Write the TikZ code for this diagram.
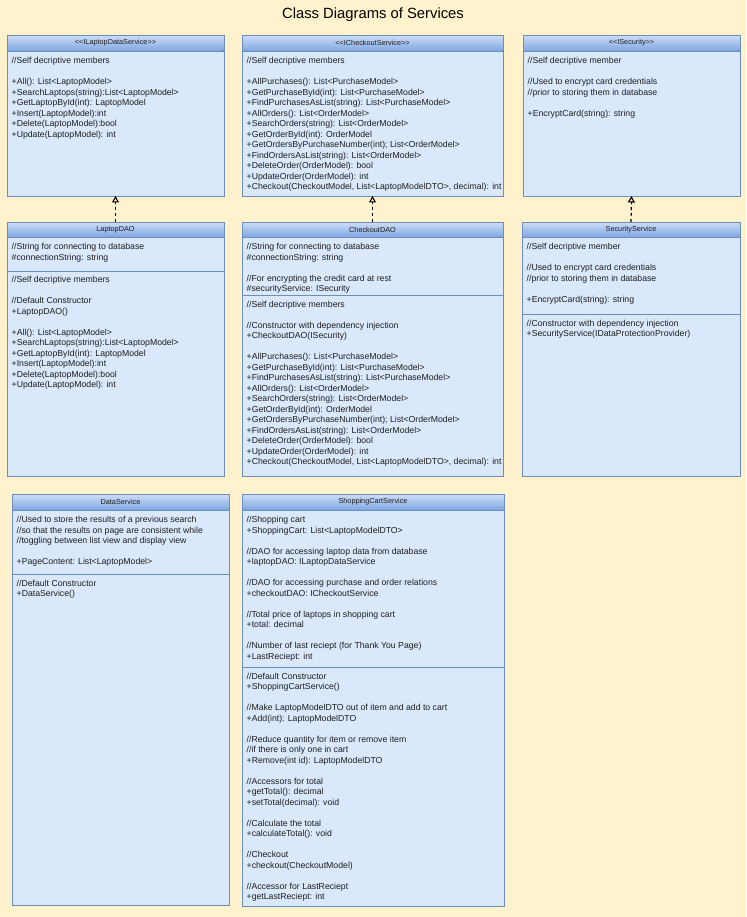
\documentclass[tikz,border=0pt]{standalone}
\usepackage{fontspec}
\setmainfont{Liberation Sans}[Ligatures=TeXOff]
\usetikzlibrary{arrows.meta,calc}
\definecolor{bgc}{HTML}{FFF2CC}
\definecolor{bodyc}{HTML}{DAE8FC}
\definecolor{bordc}{HTML}{6C8EBF}
\definecolor{headtop}{HTML}{CCDDF8}
\definecolor{headmid}{HTML}{A6C2EE}
\definecolor{headbot}{HTML}{7EA6E0}
\definecolor{txtc}{HTML}{1E1E1E}
\newcommand\bodyfont{\fontsize{8.7}{10.5}\selectfont}
\newcommand\headfont{\fontsize{7.3}{9}\selectfont}
\newcommand\bl{\\[10.5pt]}
\tikzset{
  cls/.style={draw=bordc, fill=bodyc, line width=0.8pt, inner sep=0pt, outer sep=0pt, anchor=north west},
  txt/.style={anchor=north west, inner sep=0pt, align=left, font=\bodyfont, text=txtc},
  hdtxt/.style={font=\headfont, text=txtc, inner sep=0pt},
  sepline/.style={draw=bordc, line width=0.8pt},
  realize/.style={draw=black, dash pattern=on 3pt off 3pt, line width=1.2pt, -{Triangle[open,width=7pt,length=6.5pt,line width=1.1pt]}}
}
\newcommand\umlclass[7]{%
  \node[cls, minimum width=#4pt, minimum height=#5pt] (#1) at (#2,#3) {};
  \fill[top color=headtop, middle color=headmid, bottom color=headbot] ($(#1.north west)+(0.4,0.4)$) rectangle ($(#1.north east)+(-0.4,#6)$);
  \draw[sepline] (#1.north west) rectangle (#1.south east);
  \draw[sepline] ($(#1.north west)+(0,#6)$) -- ($(#1.north east)+(0,#6)$);
  \node[hdtxt] (#1-title) at ($(#1.north)+(0,#6/2)$) {#7};
}
\newcommand\umlsep[2]{%
  \draw[sepline] ($(#1.north west)+(0,#2)$) -- ($(#1.north east)+(0,#2)$);
}
\begin{document}
\begin{tikzpicture}[x=1pt,y=-1pt]
\useasboundingbox (0,0) rectangle (746,917);
\fill[bgc] (0,0) rectangle (746,917);
\node[font=\fontsize{14.8}{17}\selectfont, text=black] (title) at (373,15) {Class Diagrams of Services};

% Row 1: interfaces
\umlclass{ild}{7}{35}{217}{161}{16}{<<ILaptopDataService>>}
\node[txt] (ild-t1) at ($(ild.north west)+(4.5,21.2)$) {\strut//Self decriptive members\bl
+All(): List<LaptopModel>\\
+SearchLaptops(string):List<LaptopModel>\\
+GetLaptopById(int): LaptopModel\\
+Insert(LaptopModel):int\\
+Delete(LaptopModel):bool\\
+Update(LaptopModel): int};

\umlclass{ics}{242}{35}{261}{161}{16}{<<ICheckoutService>>}
\node[txt] (ics-t1) at ($(ics.north west)+(4.5,21.2)$) {\strut//Self decriptive members\bl
+AllPurchases(): List<PurchaseModel>\\
+GetPurchaseById(int): List<PurchaseModel>\\
+FindPurchasesAsList(string): List<PurchaseModel>\\
+AllOrders(): List<OrderModel>\\
+SearchOrders(string): List<OrderModel>\\
+GetOrderById(int): OrderModel\\
+GetOrdersByPurchaseNumber(int); List<OrderModel>\\
+FindOrdersAsList(string): List<OrderModel>\\
+DeleteOrder(OrderModel): bool\\
+UpdateOrder(OrderModel): int\\
+Checkout(CheckoutModel, List<LaptopModelDTO>, decimal): int};

\umlclass{isec}{523}{35}{217}{161}{16}{<<ISecurity>>}
\node[txt] (isec-t1) at ($(isec.north west)+(4.5,21.2)$) {\strut//Self decriptive member\bl
//Used to encrypt card credentials\\
//prior to storing them in database\bl
+EncryptCard(string): string};

% Row 2: implementations
\umlclass{ldao}{7}{222}{217}{254}{15}{LaptopDAO}
\node[txt] (ldao-t1) at ($(ldao.north west)+(4.5,20.2)$) {\strut//String for connecting to database\\
\#connectionString: string};
\umlsep{ldao}{49}
\node[txt] (ldao-t2) at ($(ldao.north west)+(4.5,53.4)$) {\strut//Self decriptive members\bl
//Default Constructor\\
+LaptopDAO()\bl
+All(): List<LaptopModel>\\
+SearchLaptops(string):List<LaptopModel>\\
+GetLaptopById(int): LaptopModel\\
+Insert(LaptopModel):int\\
+Delete(LaptopModel):bool\\
+Update(LaptopModel): int};

\umlclass{cdao}{242}{222}{261}{254}{15}{CheckoutDAO}
\node[txt] (cdao-t1) at ($(cdao.north west)+(4.5,20.2)$) {\strut//String for connecting to database\\
\#connectionString: string\bl
//For encrypting the credit card at rest\\
\#securityService: ISecurity};
\umlsep{cdao}{73}
\node[txt] (cdao-t2) at ($(cdao.north west)+(4.5,77.5)$) {\strut//Self decriptive members\bl
//Constructor with dependency injection\\
+CheckoutDAO(ISecurity)\bl
+AllPurchases(): List<PurchaseModel>\\
+GetPurchaseById(int): List<PurchaseModel>\\
+FindPurchasesAsList(string): List<PurchaseModel>\\
+AllOrders(): List<OrderModel>\\
+SearchOrders(string): List<OrderModel>\\
+GetOrderById(int): OrderModel\\
+GetOrdersByPurchaseNumber(int); List<OrderModel>\\
+FindOrdersAsList(string): List<OrderModel>\\
+DeleteOrder(OrderModel): bool\\
+UpdateOrder(OrderModel): int\\
+Checkout(CheckoutModel, List<LaptopModelDTO>, decimal): int};

\umlclass{ssvc}{522}{222}{218}{254}{15}{SecurityService}
\node[txt] (ssvc-t1) at ($(ssvc.north west)+(4.5,20.2)$) {\strut//Self decriptive member\bl
//Used to encrypt card credentials\\
//prior to storing them in database\bl
+EncryptCard(string): string};
\umlsep{ssvc}{92}
\node[txt] (ssvc-t2) at ($(ssvc.north west)+(4.5,96.5)$) {\strut//Constructor with dependency injection\\
+SecurityService(IDataProtectionProvider)};

% Row 3: services
\umlclass{dsvc}{12}{494}{217}{411}{16}{DataService}
\node[txt] (dsvc-t1) at ($(dsvc.north west)+(4.5,21.2)$) {\strut//Used to store the results of a previous search\\
//so that the results on page are consistent while\\
//toggling between list view and display view\bl
+PageContent: List<LaptopModel>};
\umlsep{dsvc}{80}
\node[txt] (dsvc-t2) at ($(dsvc.north west)+(4.5,84.5)$) {\strut//Default Constructor\\
+DataService()};

\umlclass{scs}{242}{494}{262}{412}{16}{ShoppingCartService}
\node[txt] (scs-t1) at ($(scs.north west)+(4.5,21.2)$) {\strut//Shopping cart\\
+ShoppingCart: List<LaptopModelDTO>\bl
//DAO for accessing laptop data from database\\
+laptopDAO: ILaptopDataService\bl
//DAO for accessing purchase and order relations\\
+checkoutDAO: ICheckoutService\bl
//Total price of laptops in shopping cart\\
+total: decimal\bl
//Number of last reciept (for Thank You Page)\\
+LastReciept: int};
\umlsep{scs}{173}
\node[txt] (scs-t2) at ($(scs.north west)+(4.5,177.5)$) {\strut//Default Constructor\\
+ShoppingCartService()\bl
//Make LaptopModelDTO out of item and add to cart\\
+Add(int): LaptopModelDTO\bl
//Reduce quantity for item or remove item\\
//if there is only one in cart\\
+Remove(int id): LaptopModelDTO\bl
//Accessors for total\\
+getTotal(): decimal\\
+setTotal(decimal): void\bl
//Calculate the total\\
+calculateTotal(): void\bl
//Checkout\\
+checkout(CheckoutModel)\bl
//Accessor for LastReciept\\
+getLastReciept: int};

% Realization arrows
\draw[realize] (ldao.north) -- (ild.south);
\draw[realize] (cdao.north) -- (ics.south);
\draw[realize] (ssvc.north) -- (isec.south);
\end{tikzpicture}
\end{document}
